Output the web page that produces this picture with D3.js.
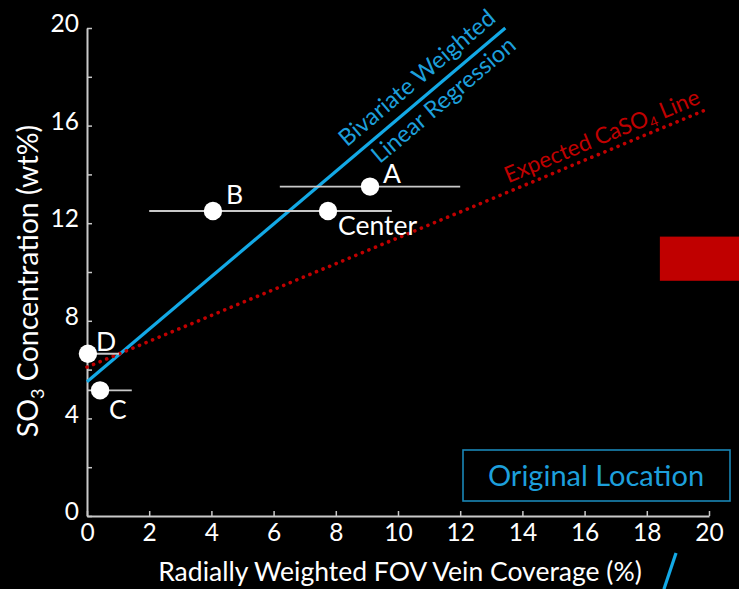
<!DOCTYPE html>
<html>
<head>
<meta charset="utf-8">
<script src="https://cdn.jsdelivr.net/npm/d3@7"></script>
<style>
  html, body { margin: 0; padding: 0; background: #000; }
  svg { display: block; font-family: Lato, "Open Sans", sans-serif; }
</style>
</head>
<body>
<svg id="chart" width="739" height="589"></svg>
<script>
// ---- data ----
const xTicks = [0, 2, 4, 6, 8, 10, 12, 14, 16, 18, 20];
const yTicks = [0, 2, 4, 6, 8, 10, 12, 14, 16, 18, 20];
const yLabelTicks = [0, 4, 8, 12, 16, 20];

const sampleNames   = ["A", "B", "Center", "D", "C"];
const veinCoverage  = [9.1, 4.05, 7.75, 0.03, 0.42];   // % FOV
const coverageError = [2.9, 2.05, 2.05, 1.0, 1.02];    // ± % FOV
const so3Conc       = [13.5, 12.5, 12.5, 6.65, 5.15];  // wt%

// label placement relative to each point (px)
const labelDx = [13, 13, 10, 8, 9];
const labelDy = [-4, -7, 24, -3, 29];

// bivariate weighted regression: SO3 = a + b * coverage
const regIntercept = 5.5;
const regSlope = 1.078;
// expected CaSO4 mixing line
const casoIntercept = 6.1;
const casoSlope = 0.53;

// ---- layout ----
const svg = d3.select("#chart");
const x = d3.scaleLinear().domain([0, 20]).range([87, 709]);
const y = d3.scaleLinear().domain([0, 20]).range([516, 28]);
const axisColor = "#c9c9c9";
const blue = "#13a9e6";
const blueText = "#1d9fdb";
const red = "#c00000";

svg.append("rect").attr("width", 739).attr("height", 589).attr("fill", "#000");

// red block at the right edge
svg.append("rect")
  .attr("x", x(18.42)).attr("y", y(11.45))
  .attr("width", 739 - x(18.42)).attr("height", y(9.64) - y(11.45))
  .attr("fill", red);

// ---- axes ----
const xAxis = d3.axisBottom(x).tickValues(xTicks).tickSize(-5).tickSizeOuter(0).tickPadding(8)
  .tickFormat(d3.format("d"));
const yAxis = d3.axisLeft(y).tickValues(yTicks).tickSize(-5).tickSizeOuter(0).tickPadding(8)
  .tickFormat(d => yLabelTicks.includes(d) ? d : "");

const gx = svg.append("g").attr("transform", `translate(0,${y(0)})`).call(xAxis);
const gy = svg.append("g").attr("transform", `translate(${x(0)},0)`).call(yAxis);
[gx, gy].forEach(g => {
  g.select(".domain").attr("stroke", axisColor).attr("stroke-width", 2);
  g.selectAll(".tick line").attr("stroke", axisColor).attr("stroke-width", 1.5);
  g.selectAll(".tick text").attr("fill", "#fff").attr("font-size", 24.5).attr("font-family", "Lato, sans-serif");
});
gy.selectAll(".tick text").attr("dy", "0.15em");

// axis titles
svg.append("text")
  .attr("x", (x(0) + x(20)) / 2 + 2).attr("y", 581)
  .attr("text-anchor", "middle").attr("fill", "#fff").attr("font-size", 26.5)
  .text("Radially Weighted FOV Vein Coverage (%)");

const yTitle = svg.append("text")
  .attr("transform", `translate(38,281) rotate(-90)`)
  .attr("text-anchor", "middle").attr("fill", "#fff").attr("font-size", 28.5);
yTitle.append("tspan").text("SO");
yTitle.append("tspan").attr("font-size", 18).attr("dy", 6).text("3");
yTitle.append("tspan").attr("dy", -6).text(" Concentration (wt%)");

// ---- lines ----
const line = d3.line().x(d => x(d[0])).y(d => y(d[1]));
const regXEnd = (20 - regIntercept) / regSlope;
svg.append("path")
  .datum([[0, regIntercept], [regXEnd, 20]])
  .attr("d", line).attr("fill", "none")
  .attr("stroke", blue).attr("stroke-width", 3.2);

svg.append("path")
  .datum([[0, casoIntercept], [20, casoIntercept + 20 * casoSlope]])
  .attr("d", line).attr("fill", "none")
  .attr("stroke", red).attr("stroke-width", 3.6)
  .attr("stroke-linecap", "round").attr("stroke-dasharray", "0.1 7");

// stray leader fragment below the axis
svg.append("path")
  .datum([[18.94, -1.52], [18.55, -3.0]])
  .attr("d", line).attr("stroke", blue).attr("stroke-width", 3.2);

// rotated line labels, placed along each line
function along(intercept, slope, xv, offset) {
  const p0 = [x(0), y(intercept)];
  const p1 = [x(20), y(intercept + 20 * slope)];
  const ang = Math.atan2(p1[1] - p0[1], p1[0] - p0[0]);
  const px = x(xv), py = y(intercept + slope * xv);
  // offset measured perpendicular to the line (negative = above)
  return {
    x: px - Math.sin(ang) * offset,
    y: py + Math.cos(ang) * offset,
    deg: ang * 180 / Math.PI
  };
}
function lineLabel(pos, fill, size) {
  return svg.append("text")
    .attr("transform", `translate(${pos.x},${pos.y}) rotate(${pos.deg})`)
    .attr("text-anchor", "middle").attr("fill", fill).attr("font-size", size);
}
lineLabel(along(regIntercept, regSlope, 11.0, -11), blueText, 23.5).text("Bivariate Weighted");
lineLabel(along(regIntercept, regSlope, 11.15, 23), blueText, 23.5).text("Linear Regression");
const caso = lineLabel(along(casoIntercept, casoSlope, 16.75, -8), red, 22.5);
caso.append("tspan").text("Expected CaSO");
caso.append("tspan").attr("font-size", 14).attr("dy", 4).text("4");
caso.append("tspan").attr("dy", -4).text(" Line");

// ---- samples ----
const samples = sampleNames.map((n, i) => ({
  name: n, cov: veinCoverage[i], err: coverageError[i], so3: so3Conc[i],
  dx: labelDx[i], dy: labelDy[i]
}));

svg.append("g").selectAll("line").data(samples).join("line")
  .attr("x1", d => x(Math.max(0, d.cov - d.err))).attr("x2", d => x(d.cov + d.err))
  .attr("y1", d => y(d.so3)).attr("y2", d => y(d.so3))
  .attr("stroke", axisColor).attr("stroke-width", 1.8);

svg.append("g").selectAll("circle").data(samples).join("circle")
  .attr("cx", d => x(d.cov)).attr("cy", d => y(d.so3)).attr("r", 9.2)
  .attr("fill", "#fff");

svg.append("g").selectAll("text").data(samples).join("text")
  .attr("x", d => x(d.cov) + d.dx).attr("y", d => y(d.so3) + d.dy)
  .attr("fill", "#fff").attr("font-size", 26.5)
  .text(d => d.name);

// ---- location box ----
const box = svg.append("g").attr("transform", "translate(463,450)");
box.append("rect").attr("width", 267).attr("height", 51)
  .attr("fill", "none").attr("stroke", "#1a86b6").attr("stroke-width", 1.6);
box.append("text").attr("x", 133).attr("y", 36).attr("text-anchor", "middle")
  .attr("fill", blueText).attr("font-size", 29).text("Original Location");
</script>
</body>
</html>
